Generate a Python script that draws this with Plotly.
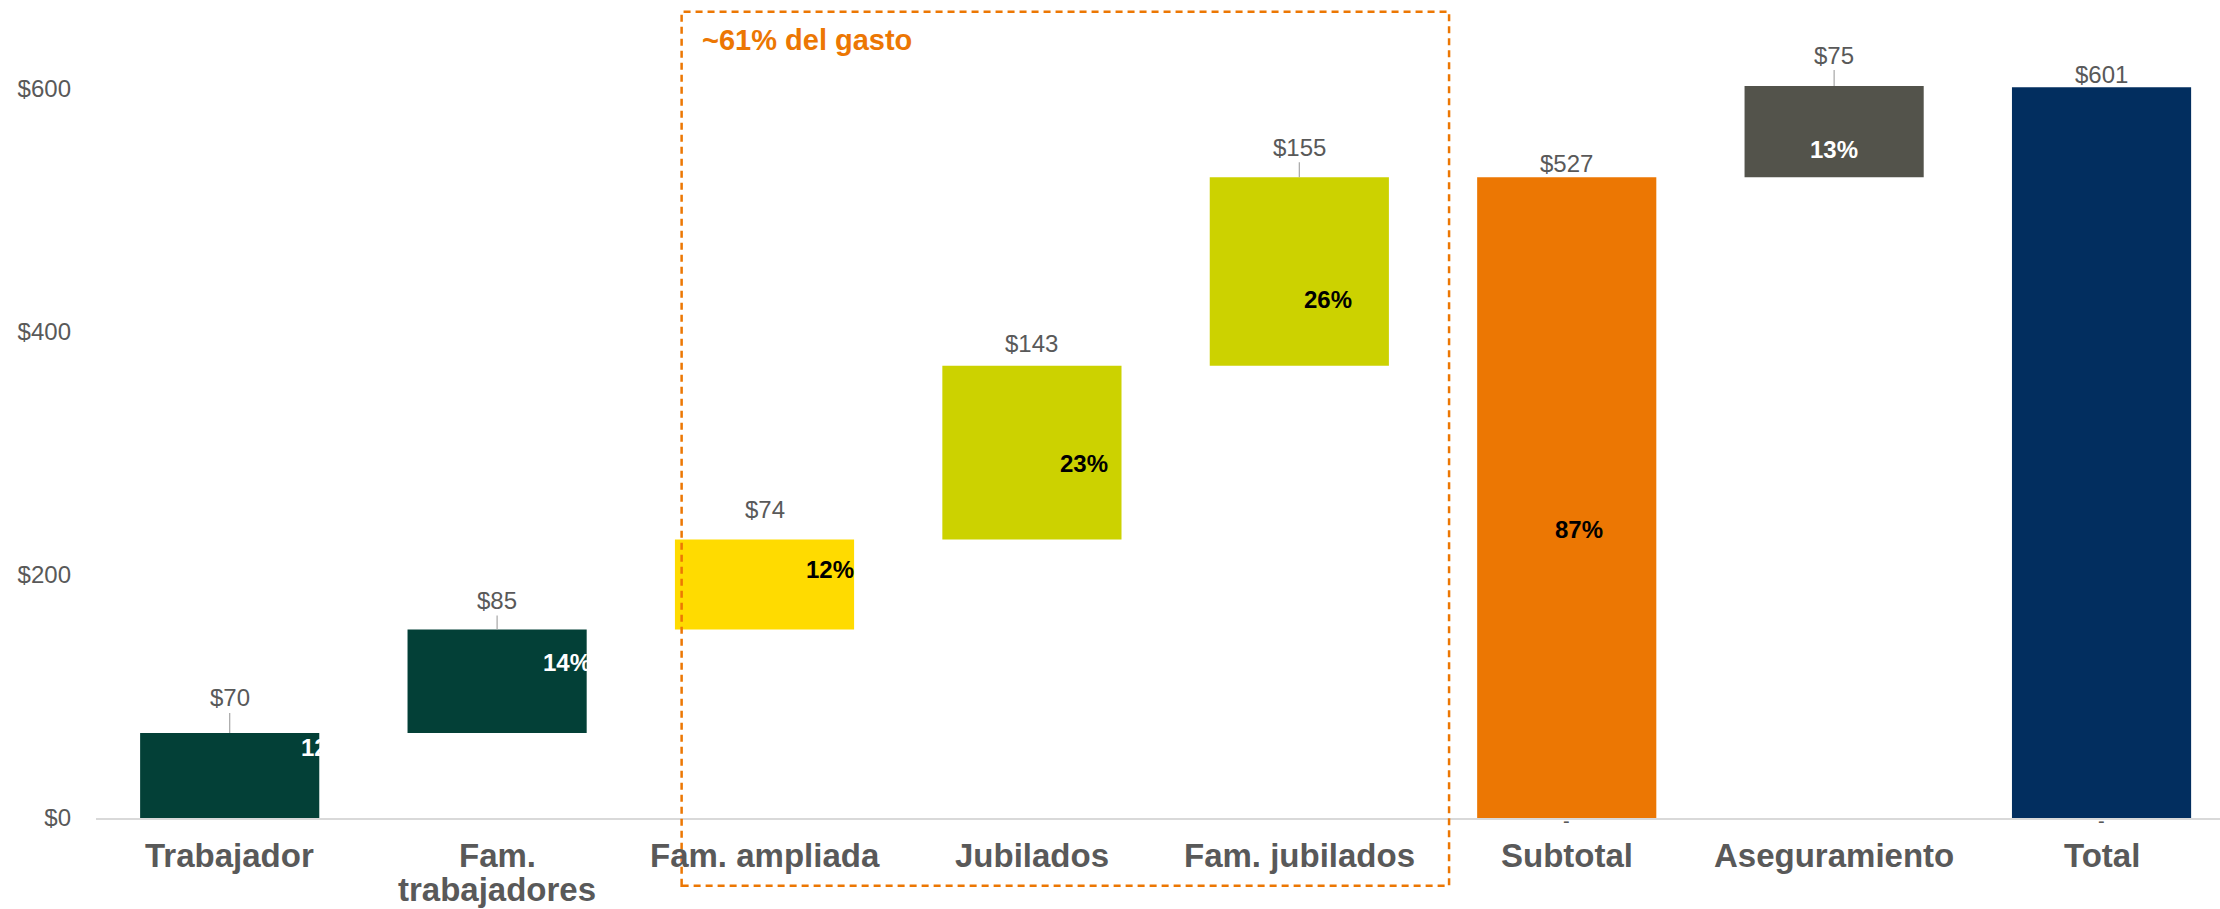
import plotly.graph_objects as go

# ---- data -------------------------------------------------------------
categories = ["Trabajador", "Fam.<br>trabajadores", "Fam. ampliada", "Jubilados",
              "Fam. jubilados", "Subtotal", "Aseguramiento", "Total"]
amounts = [70, 85, 74, 143, 155, 527, 75, 601]
kinds = ["relative", "relative", "relative", "relative", "relative",
         "total", "relative", "total"]
shares = ["12%", "14%", "12%", "23%", "26%", "87%", "13%", ""]
highlight_text = "~61% del gasto"

# ---- styling ----------------------------------------------------------
FONT = "Arial, Liberation Sans, Helvetica, sans-serif"
GREY_TEXT = "#595959"
ORANGE = "#EC7703"
bar_colors = ["#034037", "#034037", "#FFDB00", "#CCD200", "#CCD200",
              "#EC7703", "#53534B", "#022E5F"]
share_colors = ["white", "white", "black", "black", "black", "black", "white", "white"]
# where the share label sits inside each bar (fraction of bar height) and its sideways nudge
share_frac = [0.83, 0.68, 0.67, 0.44, 0.35, 0.45, 0.31, 0.5]
share_xshift = [95, 70, 65, 52, 29, 12, 0, 0]
# distance of the amount label above the bar top, and whether a leader line is drawn
value_lift = [35, 29, 30, 22, 30, 14, 31, 13]
value_leader = [True, True, False, False, True, False, True, False]
# category label lines: offset below the axis of the first line and spacing between lines
LABEL_OFFSET = 37
LABEL_LINE_GAP = 34

# ---- floating bar bases for the waterfall -----------------------------
bases = []
running = 0
for v, k in zip(amounts, kinds):
    if k == "total":
        bases.append(0)
        running = v
    else:
        bases.append(running)
        running += v
tops = [b + v for b, v in zip(bases, amounts)]

x_range = [-0.5, 7.443]
y_range = [0, 672.8]

fig = go.Figure()
fig.add_trace(go.Bar(
    x=categories, y=amounts, base=bases,
    marker=dict(color=bar_colors, line=dict(width=0)),
    hoverinfo="skip", showlegend=False,
))

annotations = []
for i, cat in enumerate(categories):
    # category name under the axis, one annotation per line for tight leading
    for j, line in enumerate(cat.split("<br>")):
        annotations.append(dict(
            x=cat, y=0, xref="x", yref="paper", yanchor="middle",
            yshift=-(LABEL_OFFSET + j * LABEL_LINE_GAP),
            text=f"<b>{line}</b>", showarrow=False,
            font=dict(family=FONT, size=33, color=GREY_TEXT),
        ))
    # amount above each bar
    annotations.append(dict(
        x=cat, y=tops[i], xref="x", yref="y",
        text=f"${amounts[i]}",
        showarrow=True, arrowhead=0, arrowwidth=1.2,
        arrowcolor="#A6A6A6" if value_leader[i] else "rgba(0,0,0,0)",
        ax=0, ay=-value_lift[i], standoff=0,
        font=dict(family=FONT, size=24, color=GREY_TEXT),
    ))
    # share of spending inside each bar
    if shares[i]:
        annotations.append(dict(
            x=cat, y=bases[i] + share_frac[i] * amounts[i], xref="x", yref="y",
            text=f"<b>{shares[i]}</b>", showarrow=False, xshift=share_xshift[i],
            font=dict(family=FONT, size=24, color=share_colors[i]),
        ))

# small dashes under the total bars
for i, k in enumerate(kinds):
    if k == "total":
        annotations.append(dict(
            x=categories[i], y=0, xref="x", yref="y", text="-", showarrow=False,
            yanchor="middle", yshift=-3,
            font=dict(family=FONT, size=20, color=GREY_TEXT),
        ))

# dashed frame around the retiree / extended-family group
def to_paper_x(v):
    return (v - x_range[0]) / (x_range[1] - x_range[0])

box_x0 = to_paper_x(2 - 0.31)
box_x1 = to_paper_x(4 + 0.56)
box_y0, box_y1 = -0.0828, 0.9857
shapes = [dict(
    type="rect", xref="paper", yref="paper",
    x0=box_x0, x1=box_x1, y0=box_y0, y1=box_y1,
    line=dict(color=ORANGE, width=2.5, dash="7px,5px"),
    fillcolor="rgba(0,0,0,0)", layer="above",
)]
annotations.append(dict(
    x=box_x0, y=0.951, xref="paper", yref="paper", xanchor="left", yanchor="middle",
    xshift=18, text=f"<b>{highlight_text}</b>", showarrow=False,
    font=dict(family=FONT, size=29, color=ORANGE),
))

fig.update_layout(
    width=2220, height=909,
    margin=dict(l=96, r=0, t=0, b=91, autoexpand=False),
    paper_bgcolor="white", plot_bgcolor="white",
    bargap=0.33,
    annotations=annotations, shapes=shapes,
    xaxis=dict(
        range=x_range, showgrid=False, zeroline=False, automargin=False,
        showline=True, linecolor="#D9D9D9", linewidth=2,
        ticks="", showticklabels=False,
    ),
    yaxis=dict(
        range=y_range, showgrid=False, zeroline=False, showline=False, automargin=False,
        tickvals=[0, 200, 400, 600], ticktext=["$0", "$200", "$400", "$600"],
        ticks="", ticklabelstandoff=24,
        tickfont=dict(family=FONT, size=24, color=GREY_TEXT),
    ),
)

fig.write_html("out.html")
